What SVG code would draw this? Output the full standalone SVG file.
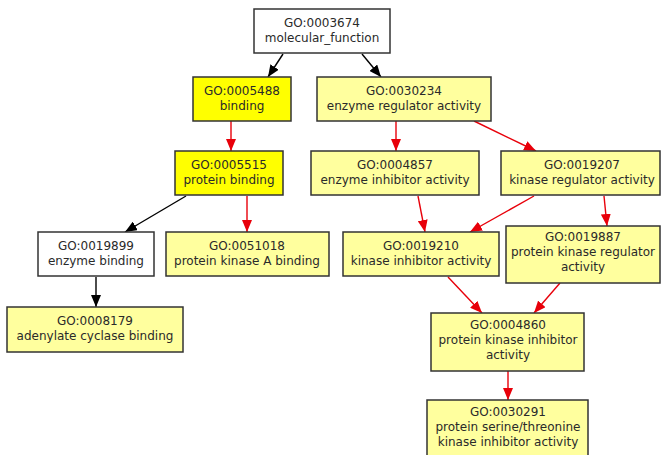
<svg xmlns="http://www.w3.org/2000/svg" width="661" height="455" viewBox="0 0 661 455">
<style>
  .box rect { stroke: #333; stroke-width: 1.5; }
  .plain rect { fill: #ffffff; }
  .hit rect { fill: #ffff00; }
  .rel rect { fill: #ffff9e; }
  text { font-family: "DejaVu Sans", sans-serif; font-size: 12px; fill: #2a2a2a; text-anchor: middle; }
  .isa { stroke: #000; stroke-width: 1.4; fill: none; }
  .reg { stroke: #e8000a; stroke-width: 1.4; fill: none; }
</style>
<defs>
  <marker id="ahBlack" viewBox="0 0 12 10" refX="12" refY="5" markerWidth="12" markerHeight="10" markerUnits="userSpaceOnUse" orient="auto">
    <path d="M0,0 L12,5 L0,10 z" fill="#000"/>
  </marker>
  <marker id="ahRed" viewBox="0 0 12 10" refX="12" refY="5" markerWidth="12" markerHeight="10" markerUnits="userSpaceOnUse" orient="auto">
    <path d="M0,0 L12,5 L0,10 z" fill="#e8000a"/>
  </marker>
</defs>
<rect width="661" height="455" fill="#fff"/>

<g id="connectors">
  <line class="isa" x1="283" y1="54" x2="268" y2="77" marker-end="url(#ahBlack)"/>
  <line class="isa" x1="362" y1="54" x2="381" y2="77" marker-end="url(#ahBlack)"/>
  <line class="reg" x1="231" y1="121" x2="231" y2="151" marker-end="url(#ahRed)"/>
  <line class="reg" x1="396" y1="121" x2="396" y2="151" marker-end="url(#ahRed)"/>
  <line class="reg" x1="474" y1="121" x2="536" y2="151" marker-end="url(#ahRed)"/>
  <line class="isa" x1="186" y1="196" x2="125" y2="232" marker-end="url(#ahBlack)"/>
  <line class="reg" x1="247" y1="196" x2="247" y2="232" marker-end="url(#ahRed)"/>
  <line class="isa" x1="96" y1="277" x2="96" y2="307" marker-end="url(#ahBlack)"/>
  <line class="reg" x1="418" y1="196" x2="425" y2="232" marker-end="url(#ahRed)"/>
  <line class="reg" x1="534" y1="196" x2="470" y2="232" marker-end="url(#ahRed)"/>
  <line class="reg" x1="604" y1="196" x2="607" y2="226" marker-end="url(#ahRed)"/>
  <line class="reg" x1="448" y1="277" x2="482" y2="313" marker-end="url(#ahRed)"/>
  <line class="reg" x1="560" y1="283" x2="534" y2="313" marker-end="url(#ahRed)"/>
  <line class="reg" x1="508" y1="371" x2="508" y2="400" marker-end="url(#ahRed)"/>
</g>

<g id="GO0003674" class="box plain">
  <rect x="254" y="9" width="136" height="44"/>
  <text x="322" y="27">GO:0003674</text>
  <text x="322" y="42">molecular_function</text>
</g>
<g id="GO0005488" class="box hit">
  <rect x="193" y="77" width="98" height="44"/>
  <text x="242" y="95">GO:0005488</text>
  <text x="242" y="110">binding</text>
</g>
<g id="GO0030234" class="box rel">
  <rect x="317" y="77" width="174" height="44"/>
  <text x="404" y="95">GO:0030234</text>
  <text x="404" y="110">enzyme regulator activity</text>
</g>
<g id="GO0005515" class="box hit">
  <rect x="175" y="151" width="108" height="44"/>
  <text x="229" y="169">GO:0005515</text>
  <text x="229" y="184">protein binding</text>
</g>
<g id="GO0004857" class="box rel">
  <rect x="311" y="151" width="168" height="44"/>
  <text x="395" y="169">GO:0004857</text>
  <text x="395" y="184">enzyme inhibitor activity</text>
</g>
<g id="GO0019207" class="box rel">
  <rect x="501" y="151" width="159" height="44"/>
  <text x="582" y="169">GO:0019207</text>
  <text x="582" y="184">kinase regulator activity</text>
</g>
<g id="GO0019899" class="box plain">
  <rect x="38" y="232" width="116" height="44"/>
  <text x="96" y="250">GO:0019899</text>
  <text x="96" y="265">enzyme binding</text>
</g>
<g id="GO0051018" class="box rel">
  <rect x="166" y="232" width="163" height="44"/>
  <text x="247" y="250">GO:0051018</text>
  <text x="247" y="265">protein kinase A binding</text>
</g>
<g id="GO0019210" class="box rel">
  <rect x="343" y="232" width="156" height="44"/>
  <text x="421" y="250">GO:0019210</text>
  <text x="421" y="265">kinase inhibitor activity</text>
</g>
<g id="GO0019887" class="box rel">
  <rect x="506" y="226" width="154" height="57"/>
  <text x="583" y="241">GO:0019887</text>
  <text x="583" y="256">protein kinase regulator</text>
  <text x="583" y="271">activity</text>
</g>
<g id="GO0008179" class="box rel">
  <rect x="7" y="307" width="176" height="45"/>
  <text x="95" y="325">GO:0008179</text>
  <text x="95" y="340">adenylate cyclase binding</text>
</g>
<g id="GO0004860" class="box rel">
  <rect x="431" y="313" width="153" height="58"/>
  <text x="508" y="329">GO:0004860</text>
  <text x="508" y="344">protein kinase inhibitor</text>
  <text x="508" y="359">activity</text>
</g>
<g id="GO0030291" class="box rel">
  <rect x="427" y="400" width="161" height="60"/>
  <text x="508" y="416">GO:0030291</text>
  <text x="508" y="431">protein serine/threonine</text>
  <text x="508" y="446">kinase inhibitor activity</text>
</g>
</svg>
